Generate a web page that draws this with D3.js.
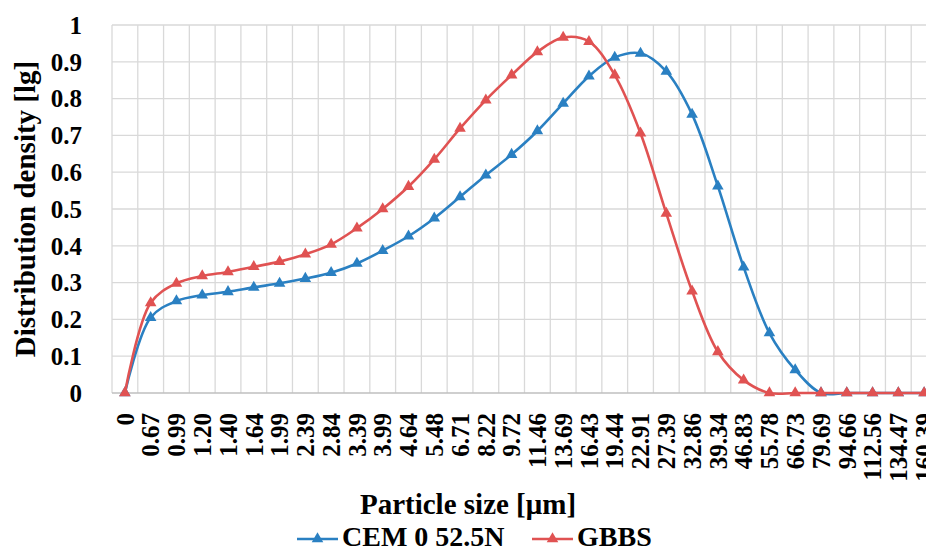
<!DOCTYPE html>
<html>
<head>
<meta charset="utf-8">
<script src="https://cdn.jsdelivr.net/npm/d3@7"></script>
<style>
  body { margin: 0; background: #fff; }
  text { font-family: "Liberation Serif", "Times New Roman", serif; font-weight: bold; fill: #000; }
</style>
</head>
<body>
<script>
width = 926;
height = 550;

// particle size classes [um]
categories = ["0","0.67","0.99","1.20","1.40","1.64","1.99","2.39","2.84","3.39","3.99","4.64","5.48","6.71","8.22","9.72","11.46","13.69","16.43","19.44","22.91","27.39","32.86","39.34","46.83","55.78","66.73","79.69","94.66","112.56","134.47","160.39"];

cem = [0,0.205,0.25,0.266,0.275,0.287,0.298,0.311,0.327,0.352,0.387,0.426,0.475,0.533,0.592,0.648,0.712,0.787,0.861,0.912,0.923,0.874,0.757,0.562,0.342,0.163,0.063,0,0,0,0,0];
gbbs = [0,0.245,0.298,0.318,0.329,0.343,0.357,0.377,0.404,0.448,0.5,0.561,0.635,0.719,0.796,0.864,0.927,0.966,0.955,0.864,0.706,0.488,0.277,0.112,0.035,0,0,0,0,0,0,0];

yTicks = [0,0.1,0.2,0.3,0.4,0.5,0.6,0.7,0.8,0.9,1];

seriesNames = ["CEM 0 52.5N", "GBBS"];
colors = ["#2a80c2", "#e05252"];

const plot = {left: 112, right: 937, top: 25, bottom: 393};

const x = d3.scaleBand().domain(categories).range([plot.left, plot.right]);
const y = d3.scaleLinear().domain([0, 1]).range([plot.bottom, plot.top]);

const svg = d3.select("body").append("svg")
    .attr("width", width)
    .attr("height", height)
    .style("display", "block");

// grid
const grid = svg.append("g").attr("stroke", "#d9d9d9").attr("stroke-width", 1.3);
grid.selectAll("line.h")
  .data(yTicks.slice(1))
  .join("line")
    .attr("x1", plot.left).attr("x2", plot.right)
    .attr("y1", d => y(d)).attr("y2", d => y(d));
grid.selectAll("line.v")
  .data(categories)
  .join("line")
    .attr("x1", d => x(d)).attr("x2", d => x(d))
    .attr("y1", plot.top).attr("y2", plot.bottom);

// bottom axis line
svg.append("line")
    .attr("x1", plot.left).attr("x2", plot.right)
    .attr("y1", plot.bottom).attr("y2", plot.bottom)
    .attr("stroke", "#bfbfbf").attr("stroke-width", 1.3);

// y tick labels
svg.append("g").selectAll("text")
  .data(yTicks)
  .join("text")
    .attr("x", 82)
    .attr("y", d => y(d))
    .attr("dy", "0.35em")
    .attr("text-anchor", "end")
    .style("font-size", "25px")
    .text(d => d3.format("")(d));

// x tick labels, rotated
svg.append("g").selectAll("text")
  .data(categories)
  .join("text")
    .attr("transform", d => `translate(${x(d) + x.bandwidth() / 2},413) rotate(-90)`)
    .attr("dy", "0.35em")
    .attr("text-anchor", "end")
    .style("font-size", "25px")
    .text(d => d);

// axis titles
svg.append("text")
    .attr("transform", `translate(35,${(plot.top + plot.bottom) / 2}) rotate(-90)`)
    .attr("text-anchor", "middle")
    .style("font-size", "29px")
    .text("Distribution density [lg]");

svg.append("text")
    .attr("x", 468)
    .attr("y", 514)
    .attr("text-anchor", "middle")
    .style("font-size", "29px")
    .text("Particle size [μm]");

// lines
const line = d3.line()
    .x((d, i) => x(categories[i]) + x.bandwidth() / 2)
    .y(d => y(d))
    .curve(d3.curveCatmullRom);

const tri = d3.symbol().type(d3.symbolTriangle).size(58);

[cem, gbbs].forEach((vals, k) => {
  const g = svg.append("g");
  g.append("path")
      .attr("d", line(vals))
      .attr("fill", "none")
      .attr("stroke", colors[k])
      .attr("stroke-width", 2.6);
  g.selectAll("path.m")
    .data(vals)
    .join("path")
      .attr("class", "m")
      .attr("transform", (d, i) => `translate(${x(categories[i]) + x.bandwidth() / 2},${y(d)})`)
      .attr("d", tri)
      .attr("fill", colors[k]);
});

// legend
const legendX = [297, 532];
const legend = svg.append("g").selectAll("g")
  .data(seriesNames)
  .join("g")
    .attr("transform", (d, i) => `translate(${legendX[i]},539)`);
legend.append("line")
    .attr("x1", 0).attr("x2", 41)
    .attr("stroke", (d, i) => colors[i])
    .attr("stroke-width", 2.6);
legend.append("path")
    .attr("transform", "translate(20.5,0)")
    .attr("d", tri)
    .attr("fill", (d, i) => colors[i]);
legend.append("text")
    .attr("x", 45)
    .attr("y", 7)
    .style("font-size", "28px")
    .text(d => d);
</script>
</body>
</html>
